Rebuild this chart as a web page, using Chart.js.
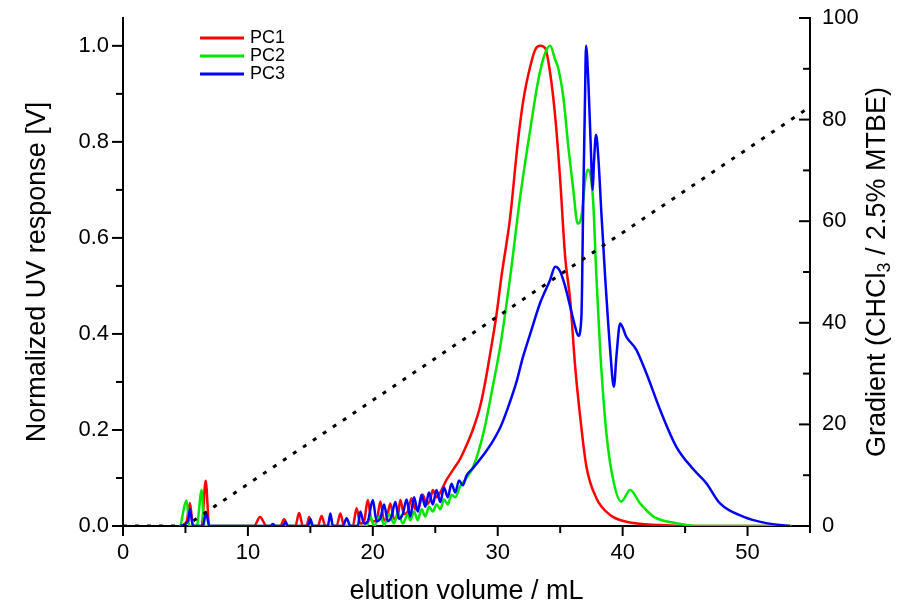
<!DOCTYPE html>
<html>
<head>
<meta charset="utf-8">
<title>Elution profile</title>
<script src="https://cdn.jsdelivr.net/npm/chart.js@4.4.0/dist/chart.umd.min.js"></script>
<style>
  html, body { margin: 0; padding: 0; background: #fff; }
  canvas { display: block; }
</style>
</head>
<body>
<canvas id="chartElution" width="910" height="608"></canvas>
<script>
// --- data ---
const pc1Volume = [4.6, 5.1, 5.36, 5.6, 6.3, 6.62, 6.9, 7.5, 10.5, 10.97, 11.5, 12.6, 12.9, 13.2, 13.8, 14.1, 14.4, 14.7, 14.9, 15.2,
  15.6, 15.9, 16.2, 17.1, 17.4, 17.7, 18.4, 18.7, 19.0, 19.3, 19.6, 19.9, 20.3, 20.6, 20.9, 21.1, 21.4, 21.7, 22.0, 22.2,
  22.5, 22.8, 23.1, 23.4, 23.7, 24.0, 24.3, 24.6, 24.8, 25.1, 25.4, 25.9, 26.5, 27.0, 27.5, 28.0, 28.6, 29.0, 29.4, 29.9,
  30.3, 31.0, 31.6, 32.05, 32.6, 33.0, 33.4, 33.8, 34.2, 34.6, 35.0, 35.4, 35.8, 36.2, 36.6, 37.1, 37.9, 39.0, 40.3, 43.0,
  45.6, 53.5];
const pc1Response = [0, 0.01, 0.048, 0, 0, 0.094, 0, 0, 0, 0.019, 0, 0, 0.014, 0, 0, 0.027, 0, 0, 0.019, 0,
  0, 0.021, 0, 0, 0.026, 0, 0, 0.037, 0.005, 0.01, 0.054, 0.01, 0.01, 0.051, 0.012, 0.015, 0.047, 0.015, 0.02, 0.054,
  0.025, 0.03, 0.058, 0.035, 0.04, 0.065, 0.045, 0.055, 0.075, 0.06, 0.07, 0.096, 0.12, 0.14, 0.168, 0.2, 0.25, 0.3, 0.36, 0.44,
  0.52, 0.644, 0.797, 0.887, 0.957, 0.992, 1.0, 0.995, 0.943, 0.853, 0.721, 0.56, 0.471, 0.332, 0.228, 0.124, 0.058, 0.023, 0.009, 0.002,
  0, 0];

const pc2Volume = [4.6, 5.1, 5.3, 5.9, 6.3, 6.5, 7.0, 19.5, 19.8, 20.1, 20.6, 20.9, 21.3, 21.7, 22.0, 22.4, 22.8, 23.0, 23.3, 23.6,
  23.9, 24.2, 24.5, 24.8, 25.1, 25.4, 25.7, 26.0, 26.3, 26.6, 26.98, 27.5, 28.05, 28.85, 29.65, 30.2, 31.0, 31.8, 32.6, 33.25,
  33.8, 34.2, 34.6, 34.85, 35.25, 35.65, 36.05, 36.4, 36.7, 37.0, 37.2, 37.45, 37.65, 37.9, 38.2, 38.7, 39.3, 39.9, 40.6, 41.4,
  42.5, 44.3, 46.2, 53.5];
const pc2Response = [0, 0.053, 0, 0, 0.075, 0, 0, 0, 0.02, 0, 0.022, 0.002, 0.025, 0.005, 0.028, 0.005, 0.025, 0.012, 0.03, 0.012,
  0.035, 0.02, 0.04, 0.03, 0.045, 0.035, 0.055, 0.045, 0.065, 0.06, 0.082, 0.1, 0.124, 0.193, 0.297, 0.374, 0.519, 0.686, 0.825, 0.929,
  0.985, 1.0, 0.971, 0.953, 0.894, 0.79, 0.7, 0.63, 0.644, 0.72, 0.742, 0.728, 0.672, 0.519, 0.367, 0.193, 0.089, 0.051, 0.075, 0.047,
  0.019, 0.006, 0, 0];

const pc3Volume = [4.6, 5.2, 5.36, 5.6, 6.4, 6.65, 6.9, 11.8, 12.0, 12.2, 12.8, 13.0, 13.2, 14.8, 15.0, 15.2, 16.4, 16.6, 16.8, 17.6,
  17.9, 18.2, 18.8, 19.0, 19.3, 19.6, 20.0, 20.3, 20.6, 20.9, 21.2, 21.5, 21.8, 22.1, 22.4, 22.7, 23.0, 23.3, 23.6, 23.9,
  24.2, 24.5, 24.8, 25.1, 25.4, 25.7, 26.0, 26.3, 26.6, 26.9, 27.2, 27.5, 28.0, 28.85, 29.5, 30.2, 30.8, 31.5, 32.0, 32.6,
  33.4, 34.2, 34.6, 35.0, 35.4, 35.8, 36.2, 36.45, 36.7, 36.85, 36.99, 37.07, 37.25, 37.45, 37.6, 37.7, 37.87, 38.05, 38.3, 38.6,
  39.0, 39.3, 39.5, 39.8, 40.3, 41.1, 41.9, 43.0, 44.3, 45.7, 46.7, 47.8, 49.7, 51.5, 53.4];
const pc3Response = [0, 0.01, 0.035, 0, 0, 0.028, 0, 0, 0.004, 0, 0, 0.009, 0, 0, 0.014, 0, 0, 0.026, 0, 0,
  0.016, 0, 0, 0.03, 0.005, 0.01, 0.054, 0.01, 0.015, 0.045, 0.01, 0.02, 0.05, 0.015, 0.025, 0.055, 0.02, 0.06, 0.03, 0.065,
  0.04, 0.07, 0.045, 0.075, 0.05, 0.08, 0.06, 0.088, 0.07, 0.095, 0.085, 0.105, 0.12, 0.148, 0.172, 0.205, 0.245, 0.3, 0.35, 0.4,
  0.465, 0.513, 0.54, 0.53, 0.499, 0.457, 0.415, 0.396, 0.436, 0.686, 0.894, 1.0, 0.929, 0.79, 0.7, 0.755, 0.815, 0.769, 0.651, 0.519,
  0.367, 0.29, 0.353, 0.422, 0.394, 0.367, 0.318, 0.242, 0.165, 0.117, 0.089, 0.047, 0.019, 0.006, 0];

const gradientVolume = [0, 5, 55];
const gradientPercent = [0, 0, 82.5];

const volumeTicks = [0, 10, 20, 30, 40, 50];
const uvTicks = [0, 0.2, 0.4, 0.6, 0.8, 1.0];
const gradientTicks = [0, 20, 40, 60, 80, 100];

const seriesNames = ['PC1', 'PC2', 'PC3'];
const seriesColors = ['#ff0000', '#00e600', '#0000ff'];

const toPoints = (xs, ys) => xs.map((x, i) => ({ x: x, y: ys[i] }));

// minor ticks + inward ticks on the right axis
const tickMarks = {
    id: 'tickMarks',
    afterDraw(chart) {
        const { ctx, chartArea: a, scales } = chart;
        ctx.save();
        ctx.strokeStyle = '#000';
        ctx.lineWidth = 2;
        const line = (x1, y1, x2, y2) => { ctx.beginPath(); ctx.moveTo(x1, y1); ctx.lineTo(x2, y2); ctx.stroke(); };

        const withMinor = (ticks) => {
            const out = [];
            ticks.forEach((t, i) => {
                out.push([t, true]);
                const next = i < ticks.length - 1 ? ticks[i + 1] : t + (t - ticks[i - 1]);
                out.push([(t + next) / 2, false]);
            });
            return out;
        };

        withMinor(volumeTicks).forEach(([v, major]) => {
            if (v > scales.x.max) return;
            const px = scales.x.getPixelForValue(v);
            line(px, a.bottom, px, a.bottom + (major ? 10 : 7));
        });
        withMinor(uvTicks).forEach(([v, major]) => {
            if (v > 1.0) return;
            const py = scales.y.getPixelForValue(v);
            line(a.left - (major ? 11 : 7), py, a.left, py);
        });
        withMinor(gradientTicks).forEach(([v, major]) => {
            if (v > 100) return;
            const py = scales.y2.getPixelForValue(v);
            line(a.right - (major ? 11 : 7), py, a.right, py);
        });
        ctx.restore();
    }
};

// legend inside the plot, top left
const innerLegend = {
    id: 'innerLegend',
    afterDraw(chart) {
        const { ctx } = chart;
        ctx.save();
        ctx.font = '18px "Liberation Sans", Arial, sans-serif';
        ctx.textBaseline = 'middle';
        ctx.fillStyle = '#000';
        seriesNames.forEach((name, i) => {
            const y = 38 + i * 18;
            ctx.strokeStyle = seriesColors[i];
            ctx.lineWidth = 3;
            ctx.beginPath();
            ctx.moveTo(200, y);
            ctx.lineTo(244, y);
            ctx.stroke();
            ctx.fillText(name, 250, y);
        });
        ctx.restore();
    }
};

// right axis title reads bottom-to-top, with CHCl3 subscript
const rightTitle = {
    id: 'rightTitle',
    afterDraw(chart) {
        const { ctx, chartArea: a } = chart;
        const big = '27px "Liberation Sans", Arial, sans-serif';
        const small = '18px "Liberation Sans", Arial, sans-serif';
        const parts = [['Gradient (CHCl', big, 0], ['3', small, 7], [' / 2.5% MTBE)', big, 0]];
        ctx.save();
        let total = 0;
        parts.forEach(([t, f]) => { ctx.font = f; total += ctx.measureText(t).width; });
        ctx.translate(878, (a.top + a.bottom) / 2);
        ctx.rotate(-Math.PI / 2);
        ctx.fillStyle = '#000';
        ctx.textBaseline = 'middle';
        let x = -total / 2;
        parts.forEach(([t, f, dy]) => {
            ctx.font = f;
            ctx.fillText(t, x, dy);
            x += ctx.measureText(t).width;
        });
        ctx.restore();
    }
};

const tickFont = { family: '"Liberation Sans", Arial, sans-serif', size: 22 };
const titleFont = { family: '"Liberation Sans", Arial, sans-serif', size: 27 };

// keep the plot box fixed: no extra room reserved for half tick labels
const fixVertical = w => s => { s.width = w; s.paddingTop = 0; s.paddingBottom = 0; };

new Chart(document.getElementById('chartElution'), {
    type: 'line',
    data: {
        datasets: [
            {
                label: 'Gradient',
                data: toPoints(gradientVolume, gradientPercent),
                yAxisID: 'y2',
                borderColor: '#000',
                borderWidth: 3,
                borderDash: [4, 8],
                pointRadius: 0,
                order: 1
            },
            {
                label: seriesNames[2],
                data: toPoints(pc3Volume, pc3Response),
                yAxisID: 'y',
                borderColor: seriesColors[2],
                borderWidth: 2.5,
                pointRadius: 0,
                cubicInterpolationMode: 'monotone',
                order: 2
            },
            {
                label: seriesNames[1],
                data: toPoints(pc2Volume, pc2Response),
                yAxisID: 'y',
                borderColor: seriesColors[1],
                borderWidth: 2.5,
                pointRadius: 0,
                cubicInterpolationMode: 'monotone',
                order: 3
            },
            {
                label: seriesNames[0],
                data: toPoints(pc1Volume, pc1Response),
                yAxisID: 'y',
                borderColor: seriesColors[0],
                borderWidth: 2.5,
                pointRadius: 0,
                cubicInterpolationMode: 'monotone',
                order: 4
            }
        ]
    },
    options: {
        responsive: false,
        animation: false,
        layout: { padding: { top: 18, left: 0, right: 0, bottom: 0 } },
        plugins: { legend: { display: false }, tooltip: { enabled: false } },
        scales: {
            x: {
                type: 'linear',
                min: 0,
                max: 55,
                afterBuildTicks: s => { s.ticks = volumeTicks.map(v => ({ value: v })); },
                afterFit: s => { s.height = 82; s.paddingLeft = 0; s.paddingRight = 0; },
                grid: { display: false, drawTicks: false },
                border: { display: true, color: '#000', width: 2 },
                ticks: { font: tickFont, color: '#000', padding: 14, maxRotation: 0 },
                title: { display: true, text: 'elution volume / mL', font: titleFont, color: '#000', padding: { bottom: 0 } }
            },
            y: {
                position: 'left',
                min: 0,
                max: 1.058,
                afterBuildTicks: s => { s.ticks = uvTicks.map(v => ({ value: v })); },
                afterFit: fixVertical(123),
                grid: { display: false, drawTicks: false },
                border: { display: true, color: '#000', width: 2 },
                ticks: { font: tickFont, color: '#000', padding: 14, callback: v => v.toFixed(1) },
                title: { display: true, text: 'Normalized UV response [V]', font: titleFont, color: '#000', padding: { top: 21 } }
            },
            y2: {
                position: 'right',
                min: 0,
                max: 100,
                afterBuildTicks: s => { s.ticks = gradientTicks.map(v => ({ value: v })); },
                afterFit: fixVertical(100),
                grid: { display: false, drawTicks: false },
                border: { display: true, color: '#000', width: 2 },
                ticks: { font: tickFont, color: '#000', padding: 12 }
            }
        }
    },
    plugins: [tickMarks, innerLegend, rightTitle]
});
</script>
</body>
</html>
